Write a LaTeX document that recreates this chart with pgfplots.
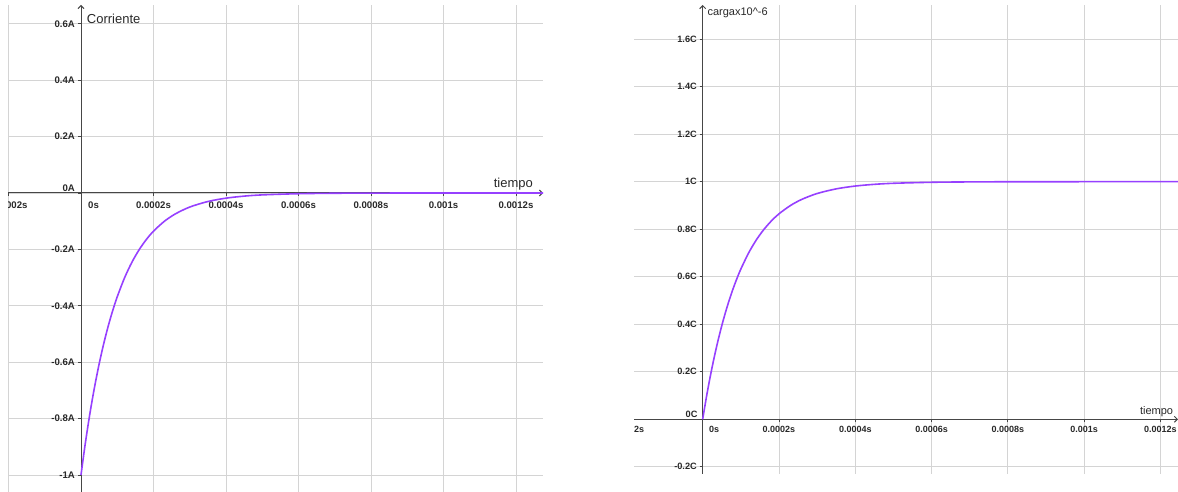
\documentclass[border=0pt]{standalone}
\usepackage{fontspec}
\setmainfont{Liberation Sans}
\usepackage{pgfplots}
\pgfplotsset{compat=1.18}
\usetikzlibrary{arrows.meta}

\definecolor{curva}{RGB}{150,64,255}
\definecolor{rejilla}{RGB}{212,212,212}
\definecolor{ejes}{RGB}{70,70,70}
\definecolor{rotulo}{RGB}{40,40,40}

% corriente de descarga, i(t) en A
\pgfplotstableread{
t        i
0        -1
0.00001  -0.9048
0.00002  -0.8187
0.00003  -0.7408
0.00004  -0.6703
0.00005  -0.6065
0.00006  -0.5488
0.00007  -0.4966
0.00008  -0.4493
0.00009  -0.4066
0.00010  -0.3679
0.00012  -0.3012
0.00014  -0.2466
0.00016  -0.2019
0.00018  -0.1653
0.00020  -0.1353
0.00023  -0.1003
0.00026  -0.0743
0.00030  -0.0498
0.00035  -0.0302
0.00040  -0.0183
0.00045  -0.0111
0.00050  -0.0067
0.00060  -0.0025
0.00070  -0.0009
0.00080  -0.0003
0.00100  0
0.00128  0
}\corriente

% carga, q(t) en C x10^-6
\pgfplotstableread{
t        q
0        0
0.00001  0.0952
0.00002  0.1813
0.00003  0.2592
0.00004  0.3297
0.00005  0.3935
0.00006  0.4512
0.00007  0.5034
0.00008  0.5507
0.00009  0.5934
0.00010  0.6321
0.00012  0.6988
0.00014  0.7534
0.00016  0.7981
0.00018  0.8347
0.00020  0.8647
0.00023  0.8997
0.00026  0.9257
0.00030  0.9502
0.00035  0.9698
0.00040  0.9817
0.00045  0.9889
0.00050  0.9933
0.00060  0.9975
0.00070  0.9991
0.00080  0.9997
0.00100  1
0.00125  1
}\carga

\pgfplotsset{geo/.style={
  scale only axis, axis lines=middle,
  axis line style={ejes, line width=1pt, -{Straight Barb[length=3pt,width=6pt]}},
  grid=major, grid style={rejilla, line width=0.9pt},
  tick align=outside, major tick length=3pt, tick style={ejes, line width=0.8pt},
  scaled x ticks=false, scaled y ticks=false,
  hide obscured x ticks=false, hide obscured y ticks=false,
  xtick={-0.0002,0,0.0002,0.0004,0.0006,0.0008,0.001,0.0012},
  xticklabels={-0.0002s,,0.0002s,0.0004s,0.0006s,0.0008s,0.001s,0.0012s},
  x tick label style={inner sep=0pt, anchor=north, text=rotulo},
  y tick label style={inner sep=0pt, anchor=east, text=rotulo},
}}

\begin{document}
\begin{tikzpicture}
\path[use as bounding box] (0,0) rectangle (1178pt,492pt);

% ---- izquierda: corriente ----
\begin{axis}[geo,
  at={(8pt,0pt)}, anchor=south west,
  width=535pt, height=487pt,
  xmin=-0.0002014, xmax=0.0012745,
  ymin=-1.0603, ymax=0.6667,
  ytick={-1,-0.8,-0.6,-0.4,-0.2,0,0.2,0.4,0.6},
  yticklabels={-1A,-0.8A,-0.6A,-0.4A,-0.2A,,0.2A,0.4A,0.6A},
  x tick label style={font=\fontsize{9.6}{12}\selectfont\bfseries, yshift=-5.7pt},
  y tick label style={font=\fontsize{9.6}{12}\selectfont\bfseries, xshift=-3pt},
]
\addplot[curva, line width=1.6pt, smooth] table[x=t, y=i] {\corriente};
\end{axis}

% ---- derecha: carga ----
\begin{axis}[geo,
  at={(634pt,18pt)}, anchor=south west,
  width=544pt, height=469pt,
  xmin=-0.00018, xmax=0.001246,
  ymin=-0.2302, ymax=1.7437,
  ytick={-0.2,0,0.2,0.4,0.6,0.8,1,1.2,1.4,1.6},
  yticklabels={-0.2C,,0.2C,0.4C,0.6C,0.8C,1C,1.2C,1.4C,1.6C},
  x tick label style={font=\fontsize{9}{11}\selectfont\bfseries, yshift=-3.4pt},
  y tick label style={font=\fontsize{9.2}{11}\selectfont\bfseries, xshift=-2.7pt},
]
\addplot[curva, line width=1.6pt, smooth] table[x=t, y=q] {\carga};
\end{axis}

% rotulos de ejes y del origen
\node[anchor=base west, inner sep=0pt, text=rotulo, font=\fontsize{13}{15}\selectfont] at (86.7pt,{492pt-23.3pt}) {Corriente};
\node[anchor=base east, inner sep=0pt, text=rotulo, font=\fontsize{13}{15}\selectfont] at (533pt,{492pt-188pt}) {tiempo};
\node[anchor=north west, inner sep=0pt, text=rotulo, font=\fontsize{9.6}{12}\selectfont\bfseries] at (88pt,{492pt-201.7pt}) {0s};
\node[anchor=south east, inner sep=0pt, text=rotulo, font=\fontsize{9.6}{12}\selectfont\bfseries] at (75pt,{492pt-191.7pt}) {0A};

\node[anchor=base west, inner sep=0pt, text=rotulo, font=\fontsize{11}{13}\selectfont] at (707.3pt,{492pt-16pt}) {cargax10\textasciicircum-6};
\node[anchor=base east, inner sep=0pt, text=rotulo, font=\fontsize{11}{13}\selectfont] at (1173.3pt,{492pt-414.5pt}) {tiempo};
\node[anchor=north west, inner sep=0pt, text=rotulo, font=\fontsize{9}{11}\selectfont\bfseries] at (709pt,{492pt-425.7pt}) {0s};
\node[anchor=south east, inner sep=0pt, text=rotulo, font=\fontsize{9.2}{11}\selectfont\bfseries] at (697.7pt,{492pt-417.3pt}) {0C};
\node[anchor=north, inner sep=0pt, text=rotulo, font=\fontsize{9}{11}\selectfont\bfseries] at (626.4pt,{492pt-425.7pt}) {-0.0002s};

% recorte de las vistas
\fill[white] (0,0) rectangle (8pt,492pt);
\fill[white] (543.6pt,0) rectangle (634pt,492pt);
\end{tikzpicture}
\end{document}
